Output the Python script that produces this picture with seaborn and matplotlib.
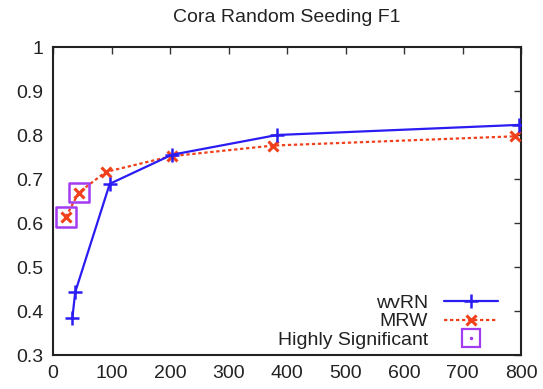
import matplotlib
matplotlib.use("Agg")
import matplotlib.pyplot as plt
from matplotlib.lines import Line2D
from matplotlib.legend_handler import HandlerTuple
import pandas as pd
import seaborn as sns

# Seed set sizes and F1 scores for each collective classifier
wvrn_x = [33, 38, 97, 203, 383, 797]
wvrn_f1 = [0.383, 0.443, 0.689, 0.755, 0.800, 0.823]
mrw_x = [22, 44, 90, 203, 376, 789]
mrw_f1 = [0.614, 0.669, 0.716, 0.752, 0.776, 0.797]
# MRW points that are highly significant
sig_x = [22, 44]
sig_f1 = [0.614, 0.669]

x_ticks = [0, 100, 200, 300, 400, 500, 600, 700, 800]
y_ticks = [0.3, 0.4, 0.5, 0.6, 0.7, 0.8, 0.9, 1.0]
y_labels = ["0.3", "0.4", "0.5", "0.6", "0.7", "0.8", "0.9", "1"]

sns.set_style("white")
plt.rcParams["font.family"] = ["Liberation Sans", "DejaVu Sans"]

BLUE = "#2a1cf2"
RED = "#f0401c"
PURPLE = "#a23cf0"
FS = 14

fig = plt.figure(figsize=(5.43, 3.89), dpi=100)
ax = fig.add_axes([53 / 543, 34 / 389, 468 / 543, 308 / 389])

wvrn = pd.DataFrame({"x": wvrn_x, "f1": wvrn_f1})
mrw = pd.DataFrame({"x": mrw_x, "f1": mrw_f1})
sig = pd.DataFrame({"x": sig_x, "f1": sig_f1})

sns.lineplot(data=mrw, x="x", y="f1", ax=ax, color=RED, lw=1.6,
             linestyle=(0, (1.5, 1.2)), marker="x", markersize=7.5,
             markeredgewidth=2.2, markeredgecolor=RED, estimator=None,
             legend=False, zorder=3)
sns.lineplot(data=wvrn, x="x", y="f1", ax=ax, color=BLUE, lw=1.6,
             marker="+", markersize=10, markeredgewidth=1.8,
             markeredgecolor=BLUE, estimator=None, legend=False, zorder=4)
sns.scatterplot(data=sig, x="x", y="f1", ax=ax, marker="s", s=200,
                facecolor="none", edgecolor=PURPLE, linewidth=1.8,
                legend=False, zorder=5)

ax.set_xlim(0, 800)
ax.set_ylim(0.3, 1.0)
ax.set_xticks(x_ticks)
ax.set_xticklabels([str(v) for v in x_ticks])
ax.set_yticks(y_ticks)
ax.set_yticklabels(y_labels)
ax.set_xlabel("")
ax.set_ylabel("")
ax.tick_params(direction="in", length=5, width=1, colors="#333333",
               labelcolor="#222222", labelsize=FS, top=True, right=True,
               pad=7)
for sp in ax.spines.values():
    sp.set_color("#222222")
    sp.set_linewidth(1.5)
ax.set_title("Cora Random Seeding F1", fontsize=FS, color="#222222", pad=18)

h_w = Line2D([], [], color=BLUE, lw=1.6, marker="+", markersize=10,
             markeredgewidth=1.8)
h_m = Line2D([], [], color=RED, lw=1.6, linestyle=(0, (1.5, 1.2)),
             marker="x", markersize=7.5, markeredgewidth=2.2)
h_sq = Line2D([], [], ls="none", marker="s", markersize=13,
              markerfacecolor="none", markeredgecolor=PURPLE,
              markeredgewidth=1.6)
h_dot = Line2D([], [], ls="none", marker="o", markersize=1.5,
               color=PURPLE)
leg = ax.legend([h_w, h_m, (h_sq, h_dot)],
                ["wvRN", "MRW", "Highly Significant"],
                handler_map={tuple: HandlerTuple(ndivide=1, pad=0)},
                loc="lower right", markerfirst=False, frameon=False,
                fontsize=FS, handlelength=2.8, handletextpad=0.8,
                labelspacing=0.05, borderpad=0, borderaxespad=0,
                bbox_to_anchor=(498 / 543, 40 / 389),
                bbox_transform=fig.transFigure)
for t in leg.get_texts():
    t.set_color("#222222")

fig.savefig("out.png", dpi=100)
